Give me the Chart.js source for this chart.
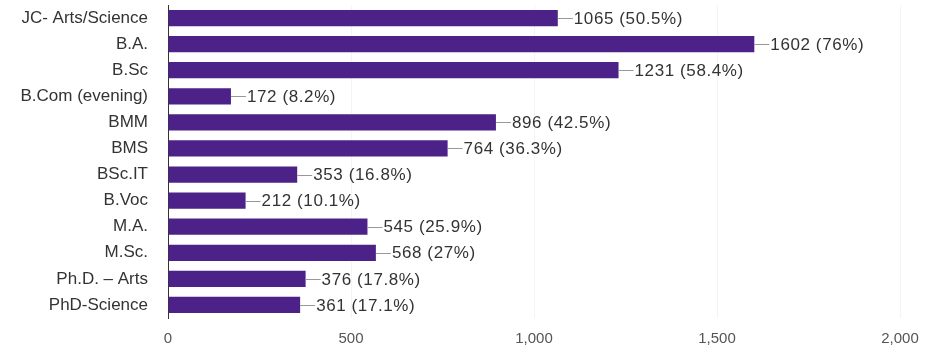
<!DOCTYPE html>
<html>
<head>
<meta charset="utf-8">
<script src="https://cdn.jsdelivr.net/npm/chart.js@4"></script>
<style>
  html, body { margin: 0; padding: 0; background: #fff; }
  #wrap { width: 931px; height: 349px; }
</style>
</head>
<body>
<div id="wrap"><canvas id="c"></canvas></div>
<script>
const courses = ["JC- Arts/Science", "B.A.", "B.Sc", "B.Com (evening)", "BMM", "BMS", "BSc.IT", "B.Voc", "M.A.", "M.Sc.", "Ph.D. \u2013 Arts", "PhD-Science"];
const counts = [1065, 1602, 1231, 172, 896, 764, 353, 212, 545, 568, 376, 361];
const shares = ["50.5%", "76%", "58.4%", "8.2%", "42.5%", "36.3%", "16.8%", "10.1%", "25.9%", "27%", "17.8%", "17.1%"];

const FONT = "'Liberation Sans', Arial, sans-serif";

// leader line + "value (pct)" after each bar
const endLabels = {
    id: "endLabels",
    afterDatasetsDraw(chart) {
        const ctx = chart.ctx;
        const meta = chart.getDatasetMeta(0);
        ctx.save();
        ctx.font = "17px " + FONT;
        ctx.letterSpacing = "0.6px";
        ctx.fillStyle = "#333";
        ctx.strokeStyle = "#999";
        ctx.lineWidth = 1;
        ctx.textBaseline = "middle";
        meta.data.forEach((bar, i) => {
            const x = bar.x, y = Math.round(bar.y) + 0.5;
            ctx.beginPath();
            ctx.moveTo(x, y);
            ctx.lineTo(x + 15, y);
            ctx.stroke();
            ctx.fillText(counts[i] + " (" + shares[i] + ")", x + 16, bar.y + 1);
        });
        ctx.restore();
    }
};

new Chart(document.getElementById("c"), {
    type: "bar",
    data: {
        labels: courses,
        datasets: [{
            data: counts,
            backgroundColor: "#4c2289",
            borderWidth: 0,
            categoryPercentage: 0.62,
            barPercentage: 1,
        }],
    },
    options: {
        indexAxis: "y",
        responsive: true,
        maintainAspectRatio: false,
        animation: false,
        layout: { padding: { left: 0, right: 31, top: 5, bottom: 0 } },
        plugins: { legend: { display: false }, tooltip: { enabled: false } },
        scales: {
            x: {
                min: 0,
                max: 2000,
                afterFit(scale) { scale.height = 31; scale.paddingLeft = 0; scale.paddingRight = 0; },
                ticks: {
                    stepSize: 500,
                    color: "#555",
                    padding: 12,
                    font: { family: FONT, size: 15 },
                },
                grid: { color: "#f4f4f4", drawTicks: false },
                border: { display: false },
            },
            y: {
                afterFit(scale) { scale.width = 168; scale.paddingTop = 0; scale.paddingBottom = 0; },
                ticks: {
                    color: "#333",
                    padding: 20,
                    font: { family: FONT, size: 17 },
                },
                grid: { display: false, drawTicks: false },
                border: { display: true, color: "#333", width: 1 },
            },
        },
    },
    plugins: [endLabels],
});
</script>
</body>
</html>
